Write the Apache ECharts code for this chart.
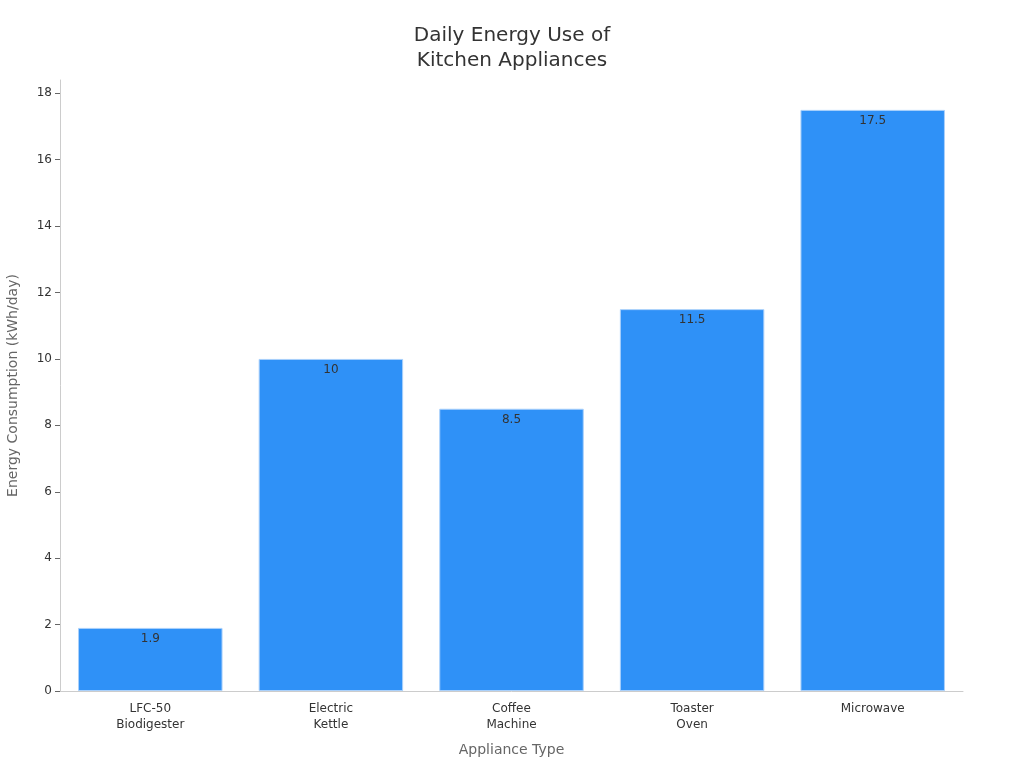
<!DOCTYPE html>
<html>
<head>
<meta charset="utf-8">
<script src="https://cdn.jsdelivr.net/npm/echarts@6/dist/echarts.min.js"></script>
<style>
html, body { margin: 0; padding: 0; background: #fff; }
#main { width: 1024px; height: 768px; }
</style>
</head>
<body>
<div id="main"></div>
<script>
var categories = ['LFC-50\nBiodigester', 'Electric\nKettle', 'Coffee\nMachine', 'Toaster\nOven', 'Microwave'];
var energyUse = [1.9, 10, 8.5, 11.5, 17.5];

var myChart = echarts.init(document.getElementById('main'));
var option = {
    backgroundColor: '#fff',
    textStyle: { fontFamily: 'DejaVu Sans' },
    title: {
        text: 'Daily Energy Use of\nKitchen Appliances',
        left: 'center',
        top: 18,
        textStyle: { fontSize: 20, fontWeight: 'normal', color: '#333', lineHeight: 25, fontFamily: 'DejaVu Sans' }
    },
    grid: { left: 60, right: 61, top: 80, bottom: 77, containLabel: false, outerBoundsMode: 'none' },
    xAxis: {
        type: 'category',
        data: categories,
        name: 'Appliance Type',
        nameLocation: 'middle',
        nameGap: 52,
        nameTextStyle: { fontSize: 14, color: '#666' },
        axisLine: { lineStyle: { color: '#ccc' } },
        axisTick: { alignWithLabel: true, lineStyle: { color: '#666' }, length: 5 },
        axisLabel: { fontSize: 12, color: '#333', lineHeight: 16, margin: 10 }
    },
    yAxis: {
        type: 'value',
        min: 0,
        max: 18.4,
        interval: 2,
        name: 'Energy Consumption (kWh/day)',
        nameLocation: 'middle',
        nameGap: 40,
        nameTextStyle: { fontSize: 14, color: '#666' },
        axisLine: { show: true, lineStyle: { color: '#ccc' } },
        axisTick: { show: true, lineStyle: { color: '#666' }, length: 5 },
        axisLabel: { fontSize: 12, color: '#333', margin: 8, showMaxLabel: false },
        splitLine: { show: false }
    },
    series: [{
        type: 'bar',
        data: energyUse,
        barWidth: '80%',
        itemStyle: { color: '#2f91f7', borderColor: '#a9d0fb', borderWidth: 1 },
        label: {
            show: true,
            position: 'insideTop',
            distance: 5,
            fontSize: 12,
            color: '#333'
        }
    }]
};
myChart.setOption(option);
</script>
</body>
</html>
